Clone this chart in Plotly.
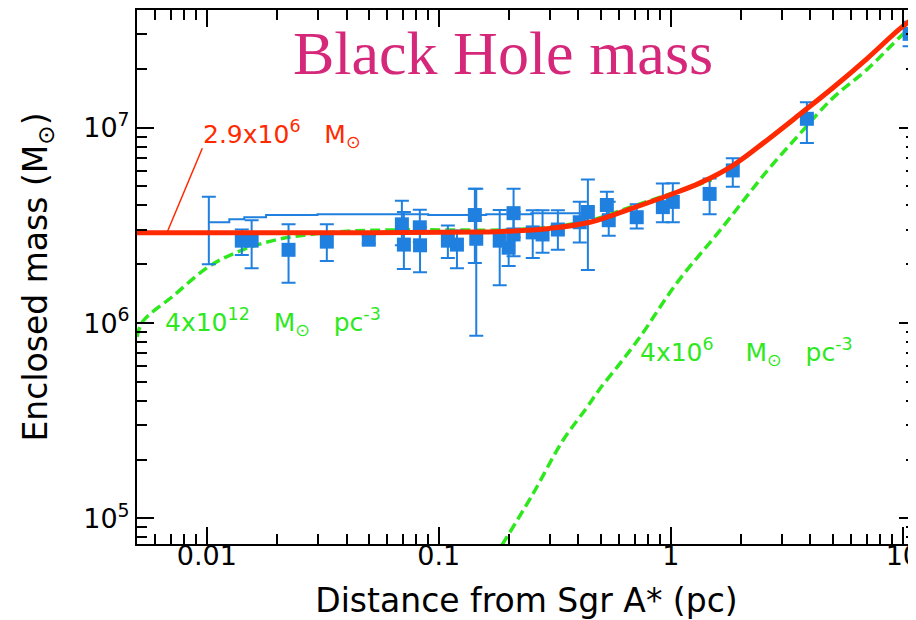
import plotly.graph_objects as go
import numpy as np

# ---- data ----
pt_r = [0.01415, 0.0156, 0.0225, 0.0329, 0.0499, 0.0693, 0.0707, 0.0828, 0.083, 0.1094,
        0.1197, 0.143, 0.145, 0.183, 0.2, 0.21, 0.21, 0.254, 0.28, 0.326,
        0.405, 0.439, 0.53, 0.54, 0.713, 0.924, 1.02, 1.47, 1.85, 3.86, 10.7]
pt_m = [2.64e6, 2.64e6, 2.37e6, 2.61e6, 2.67e6, 3.2e6, 2.52e6, 3.09e6, 2.5e6, 2.64e6,
        2.52e6, 3.57e6, 2.7e6, 2.64e6, 2.43e6, 3.65e6, 2.84e6, 2.91e6, 2.84e6, 3.01e6,
        3.28e6, 3.7e6, 4.02e6, 3.36e6, 3.48e6, 3.92e6, 4.17e6, 4.58e6, 6.04e6, 1.11e7, 3.02e7]
pt_lo = [2.23e6, 1.91e6, 1.61e6, 2.08e6, 2.55e6, 2.5e6, 1.89e6, 2.6e6, 1.82e6, 2.15e6,
         1.91e6, 2.03e6, 8.6e5, 1.56e6, 1.96e6, 2.74e6, 2.2e6, 2.15e6, 2.29e6, 2.37e6,
         2.58e6, 1.87e6, 3.36e6, 2.8e6, 3.05e6, 3.28e6, 3.28e6, 3.6e6, 4.99e6, 8.35e6, 2.61e7]
pt_hi = [3.01e6, 3.36e6, 3.2e6, 3.2e6, 2.8e6, 4.22e6, 3.7e6, 3.8e6, 3.09e6, 3.16e6,
         2.98e6, 4.87e6, 4.87e6, 3.79e6, 3.0e6, 4.87e6, 3.7e6, 3.78e6, 3.78e6, 3.78e6,
         4.17e6, 5.42e6, 4.7e6, 4.17e6, 4.06e6, 5.18e6, 5.2e6, 5.5e6, 6.98e6, 1.35e7, 3.48e7]

# innermost point (error bar only)
in_r = [0.0102]
in_m = [3.0e6]
in_lo = [2.0e6]
in_hi = [4.43e6]

# thin blue stepped line
step_r = [0.0102, 0.0125, 0.0145, 0.018, 0.03, 0.09, 0.16, 0.25, 0.45]
step_m = [3.28e6, 3.4e6, 3.48e6, 3.57e6, 3.6e6, 3.57e6, 3.6e6, 3.65e6, 3.7e6]

# red fit: black hole + cluster
red_r = [0.005, 0.05, 0.15, 0.2, 0.3, 0.448, 0.665, 1.0, 1.33, 1.85, 2.59, 3.6, 5.0, 7.0, 9.7, 11.4]
red_m = [2.9e6, 2.9e6, 2.92e6, 2.95e6, 3.05e6, 3.28e6, 3.83e6, 4.55e6, 5.2e6, 6.4e6, 8.6e6,
         1.17e7, 1.6e7, 2.25e7, 3.2e7, 3.7e7]

# green: dark cluster 4x10^12
gc_r = [0.005, 0.0053, 0.00713, 0.0103, 0.0143, 0.02, 0.0278, 0.04, 0.07, 0.2, 0.3, 0.45, 0.66, 1.0, 1.5]
gc_m = [8.5e5, 1.02e6, 1.37e6, 1.96e6, 2.37e6, 2.67e6, 2.84e6, 2.95e6, 3.0e6, 3.0e6, 3.1e6,
        3.35e6, 3.9e6, 4.6e6, 5.4e6]

# green: stellar cluster 4x10^6
gs_r = [0.187, 0.254, 0.342, 0.435, 0.494, 0.603, 0.735, 1.06, 1.63, 2.59, 3.6, 5.0, 7.0, 10.0, 11.4]
gs_m = [7.3e4, 1.33e5, 2.5e5, 3.7e5, 4.6e5, 6.2e5, 8.45e5, 1.6e6, 2.98e6, 5.97e6, 9.3e6, 1.42e7,
        1.98e7, 3.0e7, 3.4e7]

x_tickvals = [0.01, 0.1, 1, 10]
x_ticktext = ["0.01", "0.1", "1", "10"]
y_tickvals = [1e5, 1e6, 1e7]
y_ticktext = ["10<sup>5</sup>", "10<sup>6</sup>", "10<sup>7</sup>"]

BLUE = "#1f80e0"
RED = "#ff2a00"
GREEN = "#2ee81e"
MAG = "#d6287a"
SP = "\u00a0"

fig = go.Figure()

fig.add_trace(go.Scatter(x=gs_r, y=gs_m, mode="lines", line_shape="spline",
                         line=dict(color=GREEN, width=3.5, dash="10px,5px")))
fig.add_trace(go.Scatter(x=gc_r, y=gc_m, mode="lines", line_shape="spline",
                         line=dict(color=GREEN, width=3.5, dash="10px,5px")))
fig.add_trace(go.Scatter(x=step_r, y=step_m, mode="lines", line_shape="hv",
                         line=dict(color=BLUE, width=2)))

pm = np.array(pt_m)
fig.add_trace(go.Scatter(
    x=pt_r, y=pt_m, mode="markers",
    marker=dict(symbol="square", size=14, color=BLUE),
    error_y=dict(type="data", symmetric=False,
                 array=list(np.array(pt_hi) - pm), arrayminus=list(pm - np.array(pt_lo)),
                 color=BLUE, thickness=2, width=7)))
im = np.array(in_m)
fig.add_trace(go.Scatter(
    x=in_r, y=in_m, mode="markers",
    marker=dict(symbol="square", size=1, color="rgba(0,0,0,0)"),
    error_y=dict(type="data", symmetric=False,
                 array=list(np.array(in_hi) - im), arrayminus=list(im - np.array(in_lo)),
                 color=BLUE, thickness=2, width=7)))

fig.add_trace(go.Scatter(x=red_r, y=red_m, mode="lines", line_shape="spline",
                         line=dict(color=RED, width=5)))

ann_font = dict(family="DejaVu Sans", size=25)
fig.add_annotation(x=np.log10(0.00673), y=np.log10(2.9e6), xref="x", yref="y",
                   text="", showarrow=True, arrowhead=0, arrowwidth=1.5, arrowcolor=RED,
                   ax=36, ay=-86)
fig.add_annotation(x=np.log10(0.0094), y=np.log10(9.3e6), xref="x", yref="y",
                   text=f"2.9x10<sup>6</sup>{SP*3}M<sub>⊙</sub>", showarrow=False,
                   xanchor="left", yanchor="middle", font=dict(ann_font, color=RED))
fig.add_annotation(x=np.log10(0.00646), y=np.log10(1.01e6), xref="x", yref="y",
                   text=f"4x10<sup>12</sup>{SP*3}M<sub>⊙</sub>{SP*3}pc<sup>-3</sup>", showarrow=False,
                   xanchor="left", yanchor="middle", font=dict(ann_font, color=GREEN))
fig.add_annotation(x=np.log10(0.721), y=np.log10(7.15e5), xref="x", yref="y",
                   text=f"4x10<sup>6</sup>{SP*4}M<sub>⊙</sub>{SP*3}pc<sup>-3</sup>", showarrow=False,
                   xanchor="left", yanchor="middle", font=dict(ann_font, color=GREEN))
fig.add_annotation(x=(503 - 137) / (916 - 137), y=1 - (52 - 10) / (536 - 10),
                   xref="paper", yref="paper", text="Black Hole mass",
                   xanchor="center", yanchor="middle",
                   showarrow=False, font=dict(family="Liberation Serif", size=62, color=MAG))

axis_common = dict(showline=True, linecolor="black", linewidth=2, mirror="ticks",
                   ticks="inside", ticklen=17, tickwidth=2, tickcolor="black",
                   showgrid=False, zeroline=False, ticklabeloverflow="allow",
                   tickfont=dict(family="DejaVu Sans", size=27, color="black"),
                   minor=dict(ticks="inside", ticklen=10, tickwidth=1.5, tickcolor="black",
                              dtick="D1", showgrid=False))

fig.update_xaxes(type="log", range=[np.log10(0.005), np.log10(11.4)],
                 tickvals=x_tickvals, ticktext=x_ticktext, ticklabelstandoff=-13,
                 title=dict(text="Distance from Sgr A* (pc)", standoff=18,
                            font=dict(family="DejaVu Sans", size=33, color="black")),
                 **axis_common)
fig.update_yaxes(type="log", range=[np.log10(7.4e4), np.log10(4.0e7)],
                 tickvals=y_tickvals, ticktext=y_ticktext,
                 title=dict(text="Enclosed mass (M<sub>⊙</sub>)", standoff=26,
                            font=dict(family="DejaVu Sans", size=33, color="black")),
                 **axis_common)

# page body has an 8px margin, so the figure is sized/positioned to compensate
fig.update_layout(width=908, height=612, showlegend=False,
                  margin=dict(l=129, r=0, t=2, b=76, autoexpand=False),
                  plot_bgcolor="white", paper_bgcolor="white")

fig.write_html("out.html")
